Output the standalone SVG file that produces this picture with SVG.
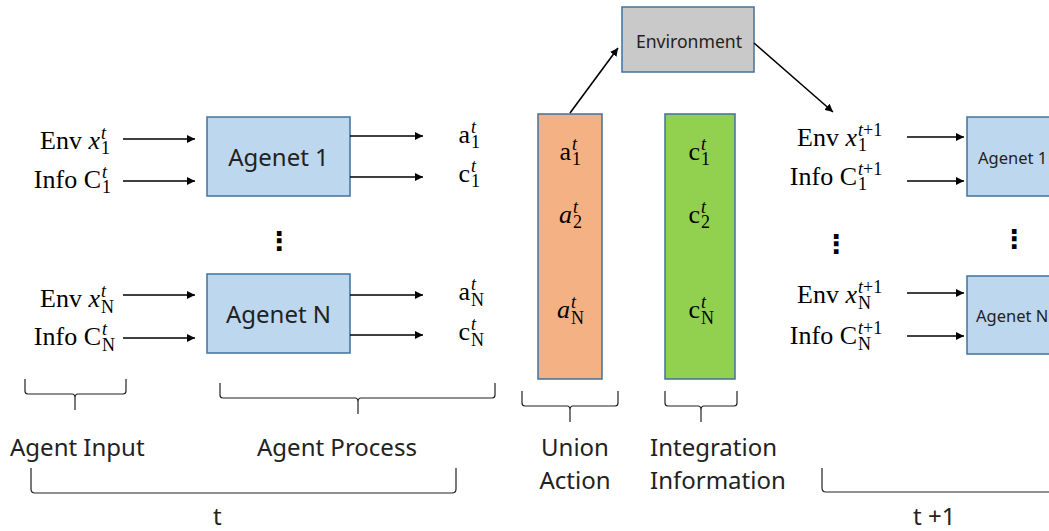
<svg xmlns="http://www.w3.org/2000/svg" width="1049" height="531" viewBox="0 0 1049 531">
  <style>
    .m { font-family: "Liberation Serif", "DejaVu Serif", serif; font-size: 26px; fill: #000; }
    .s { font-size: 18px; }
    .i { font-style: italic; }
    .e { text-anchor: end; }
    .st { text-anchor: start; }
    .lbl { font-family: "Noto Sans", "Open Sans", sans-serif; font-size: 24px; fill: #222; }
    .box { fill: #bdd7ee; stroke: #41719c; stroke-width: 1.5; }
    .env { fill: #c9c9c9; stroke: #41719c; stroke-width: 1.5; }
    .act { fill: #f4b183; stroke: #41719c; stroke-width: 1.5; }
    .inf { fill: #92d050; stroke: #41719c; stroke-width: 1.5; }
    .arr { stroke: #000; stroke-width: 1.6; fill: none; marker-end: url(#ah); }
    .br { stroke: #222; stroke-width: 1.2; fill: none; }
    .dots { font-family: "DejaVu Sans", sans-serif; font-size: 26px; font-weight: bold; fill: #000; text-anchor: middle; }
  </style>
  <defs>
    <marker id="ah" viewBox="0 0 10 10" refX="10" refY="5" markerWidth="5" markerHeight="5" orient="auto" markerUnits="strokeWidth">
      <path d="M0,0 L10,5 L0,10 z" fill="#000"/>
    </marker>
  </defs>

  <!-- step t: agents -->
  <g id="agent-1">
    <rect class="box" x="207" y="117" width="143" height="79"/>
    <text class="lbl" x="278.5" y="166" text-anchor="middle">Agenet 1</text>
  </g>
  <g id="agent-n">
    <rect class="box" x="207" y="274" width="143" height="79"/>
    <text class="lbl" x="278.5" y="323" text-anchor="middle">Agenet N</text>
  </g>

  <!-- union of actions: each symbol is base + superscript + subscript -->
  <g id="union-action">
    <rect class="act" x="538" y="114" width="64" height="265"/>
    <text class="m" y="160"><tspan class="e" x="571">a</tspan><tspan class="st s i" x="572" dy="-10">t</tspan><tspan class="st s" x="572" dy="15">1</tspan></text>
    <text class="m" y="223"><tspan class="e i" x="572">a</tspan><tspan class="st s i" x="573" dy="-10">t</tspan><tspan class="st s" x="573" dy="15">2</tspan></text>
    <text class="m" y="318"><tspan class="e i" x="570">a</tspan><tspan class="st s i" x="571" dy="-10">t</tspan><tspan class="st s" x="571" dy="16">N</tspan></text>
  </g>

  <!-- integrated information -->
  <g id="integration-info">
    <rect class="inf" x="665" y="114" width="70" height="265"/>
    <text class="m" y="160"><tspan class="e" x="700">c</tspan><tspan class="st s i" x="701" dy="-10">t</tspan><tspan class="st s" x="701" dy="15">1</tspan></text>
    <text class="m" y="223"><tspan class="e" x="700">c</tspan><tspan class="st s i" x="701" dy="-10">t</tspan><tspan class="st s" x="701" dy="15">2</tspan></text>
    <text class="m" y="318"><tspan class="e" x="700">c</tspan><tspan class="st s i" x="701" dy="-10">t</tspan><tspan class="st s" x="701" dy="16">N</tspan></text>
  </g>

  <g id="environment">
    <rect class="env" x="622" y="7" width="132" height="65"/>
    <text class="lbl" x="689" y="48" text-anchor="middle" style="font-size:17.6px">Environment</text>
  </g>

  <!-- step t+1: agents (running off the right edge) -->
  <g id="agent-1-next">
    <rect class="box" x="967" y="117" width="100" height="79"/>
    <text class="lbl" x="978" y="164" style="font-size:16.5px">Agenet 1</text>
  </g>
  <g id="agent-n-next">
    <rect class="box" x="967" y="276" width="100" height="78"/>
    <text class="lbl" x="976" y="322" style="font-size:16.5px">Agenet N</text>
  </g>

  <!-- input labels, step t -->
  <g id="inputs-t">
    <text class="m" y="149"><tspan class="e" x="100">Env <tspan class="i">x</tspan></tspan><tspan class="st s i" x="101" dy="-10">t</tspan><tspan class="st s" x="101" dy="15">1</tspan></text>
    <text class="m" y="188"><tspan class="e" x="101">Info C</tspan><tspan class="st s i" x="102" dy="-10">t</tspan><tspan class="st s" x="102" dy="15">1</tspan></text>
    <text class="m" y="307"><tspan class="e" x="100">Env <tspan class="i">x</tspan></tspan><tspan class="st s i" x="101" dy="-10">t</tspan><tspan class="st s" x="101" dy="16">N</tspan></text>
    <text class="m" y="345"><tspan class="e" x="101">Info C</tspan><tspan class="st s i" x="102" dy="-10">t</tspan><tspan class="st s" x="102" dy="16">N</tspan></text>
  </g>

  <!-- output labels, step t -->
  <g id="outputs-t">
    <text class="m" y="143"><tspan class="e" x="470">a</tspan><tspan class="st s i" x="471" dy="-10">t</tspan><tspan class="st s" x="471" dy="15">1</tspan></text>
    <text class="m" y="182"><tspan class="e" x="470">c</tspan><tspan class="st s i" x="471" dy="-10">t</tspan><tspan class="st s" x="471" dy="15">1</tspan></text>
    <text class="m" y="300"><tspan class="e" x="470">a</tspan><tspan class="st s i" x="471" dy="-10">t</tspan><tspan class="st s" x="471" dy="16">N</tspan></text>
    <text class="m" y="340"><tspan class="e" x="470">c</tspan><tspan class="st s i" x="471" dy="-10">t</tspan><tspan class="st s" x="471" dy="16">N</tspan></text>
  </g>

  <!-- input labels, step t+1 -->
  <g id="inputs-next">
    <text class="m" y="146"><tspan class="e" x="857">Env <tspan class="i">x</tspan></tspan><tspan class="st s" x="858" dy="-10"><tspan class="i">t</tspan>+1</tspan><tspan class="st s" x="858" dy="15">1</tspan></text>
    <text class="m" y="185"><tspan class="e" x="857">Info C</tspan><tspan class="st s" x="858" dy="-10"><tspan class="i">t</tspan>+1</tspan><tspan class="st s" x="858" dy="15">1</tspan></text>
    <text class="m" y="303"><tspan class="e" x="857">Env <tspan class="i">x</tspan></tspan><tspan class="st s" x="858" dy="-10"><tspan class="i">t</tspan>+1</tspan><tspan class="st s" x="858" dy="16">N</tspan></text>
    <text class="m" y="344"><tspan class="e" x="857">Info C</tspan><tspan class="st s" x="858" dy="-10"><tspan class="i">t</tspan>+1</tspan><tspan class="st s" x="858" dy="16">N</tspan></text>
  </g>

  <!-- vertical ellipses -->
  <g id="ellipses">
    <text class="dots" x="279" y="250">⋮</text>
    <text class="dots" x="836" y="253">⋮</text>
    <text class="dots" x="1014" y="248">⋮</text>
  </g>

  <g id="connectors">
    <line class="arr" x1="123" y1="139" x2="195" y2="139"/>
    <line class="arr" x1="123" y1="181" x2="195" y2="181"/>
    <line class="arr" x1="123" y1="295" x2="195" y2="295"/>
    <line class="arr" x1="123" y1="338" x2="195" y2="338"/>
    <line class="arr" x1="350" y1="136" x2="423" y2="136"/>
    <line class="arr" x1="350" y1="177" x2="423" y2="177"/>
    <line class="arr" x1="350" y1="295" x2="423" y2="295"/>
    <line class="arr" x1="350" y1="335" x2="423" y2="335"/>
    <line class="arr" x1="570" y1="113" x2="618" y2="48"/>
    <line class="arr" x1="754" y1="43" x2="833" y2="112"/>
    <line class="arr" x1="907" y1="137" x2="964" y2="137"/>
    <line class="arr" x1="907" y1="181" x2="964" y2="181"/>
    <line class="arr" x1="907" y1="293" x2="964" y2="293"/>
    <line class="arr" x1="907" y1="336" x2="964" y2="336"/>
  </g>

  <!-- braces and group labels -->
  <g id="brace-input">
    <path class="br" d="M25,379 V391 Q25,394 28,394 H72 Q75,394 75,398 V410 M75,398 Q75,394 78,394 H123 Q126,394 126,391 V379"/>
    <text class="lbl" x="10" y="456">Agent Input</text>
  </g>
  <g id="brace-process">
    <path class="br" d="M220,383 V395 Q220,398 223,398 H355 Q358,398 358,402 V414 M358,402 Q358,398 361,398 H492 Q495,398 495,395 V383"/>
    <text class="lbl" x="257" y="456">Agent Process</text>
  </g>
  <g id="brace-union">
    <path class="br" d="M522,391 V403 Q522,406 525,406 H567 Q570,406 570,410 V422 M570,410 Q570,406 573,406 H615 Q618,406 618,403 V391"/>
    <text class="lbl" x="575" y="456" text-anchor="middle">Union</text>
    <text class="lbl" x="575" y="489" text-anchor="middle">Action</text>
  </g>
  <g id="brace-integration">
    <path class="br" d="M665,391 V403 Q665,406 668,406 H698 Q701,406 701,410 V422 M701,410 Q701,406 704,406 H734 Q737,406 737,403 V391"/>
    <text class="lbl" x="650" y="456">Integration</text>
    <text class="lbl" x="650" y="489">Information</text>
  </g>
  <g id="bracket-t">
    <path class="br" d="M31,468 V489 Q31,493 35,493 H452 Q456,493 456,489 V468"/>
    <text class="lbl" x="213" y="525">t</text>
  </g>
  <g id="bracket-t-next">
    <path class="br" d="M822,468 V488 Q822,492 826,492 H1060"/>
    <text class="lbl" x="913" y="525">t +1</text>
  </g>
</svg>
